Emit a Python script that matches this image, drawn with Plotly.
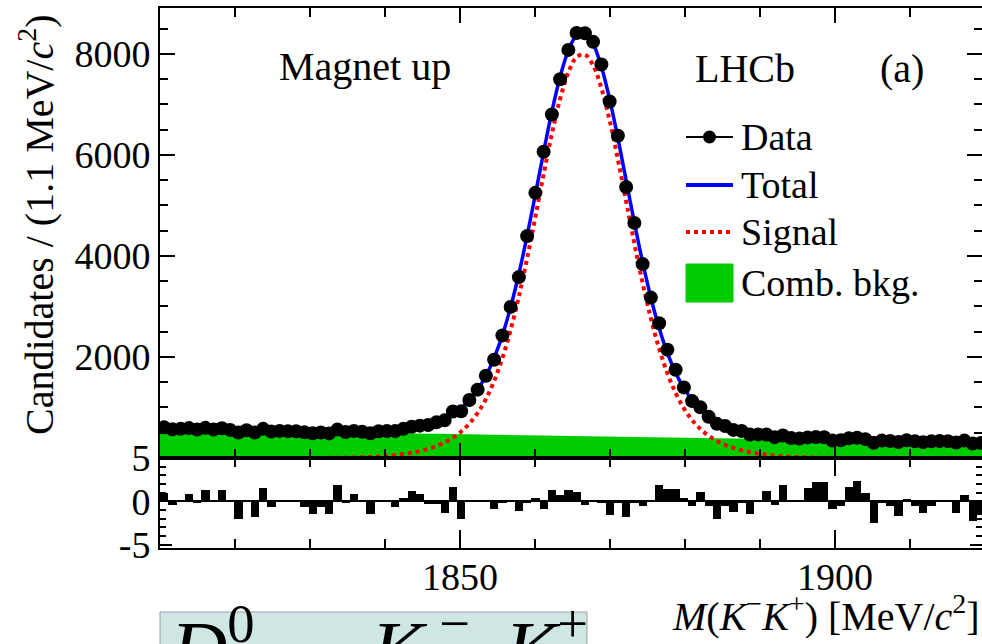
import plotly.graph_objects as go

FONT = "Liberation Serif, Times New Roman, DejaVu Serif, serif"
GREEN = "#00cc00"

# ---- binning -------------------------------------------------------------
bin_low = 1810.0
bin_high = 1920.0
bin_width = 1.1
mass = [round(bin_low + bin_width * (i + 0.5), 2) for i in range(100)]

# ---- data (candidates per 1.1 MeV/c^2 bin) ------------------------------
counts = [607, 570, 577, 592, 563, 597, 563, 590, 556, 503,
          550, 503, 577, 523, 537, 532, 530, 510, 491, 506,
          487, 562, 515, 536, 519, 490, 529, 536, 533, 577,
          619, 641, 652, 706, 745, 921, 927, 1149, 1353, 1630,
          1944, 2427, 2992, 3582, 4394, 5250, 6064, 6800, 7500, 8080,
          8415, 8410, 8240, 7790, 7060, 6380, 5365, 4655, 3839, 3176,
          2668, 2145, 1747, 1398, 1127, 1003, 817, 676, 634, 556,
          534, 465, 467, 466, 413, 445, 397, 385, 408, 415,
          411, 347, 352, 391, 401, 373, 303, 345, 338, 315,
          350, 333, 314, 330, 338, 334, 308, 345, 288, 299]

# ---- pulls -----------------------------------------------------------------
pulls = [1.0, -0.4, 0.05, 0.8, -0.25, 1.3, 0.05, 1.3, 0.0, -2.1,
         0.05, -1.85, 1.5, -0.7, 0.05, -0.05, 0.05, -0.7, -1.45, -0.7,
         -1.45, 1.9, -0.1, 0.8, 0.0, -1.45, 0.05, -0.05, -0.7, 0.4,
         1.2, 0.8, -0.35, -0.3, -1.35, 1.65, -2.0, 0.05, -0.05, 0.05,
         -0.85, -0.1, 0.1, -1.1, -0.1, 0.4, -0.85, 1.35, 0.75, 1.35,
         1.1, -0.4, 0.05, -0.1, -1.55, -0.1, -1.8, -0.1, -0.6, 0.05,
         1.85, 1.4, 1.4, 0.4, -0.6, 1.1, -0.55, -2.0, -0.55, -1.25,
         -0.1, -1.45, 0.05, 1.2, -0.45, 1.9, 0.05, -0.05, 1.5, 2.2,
         2.2, -0.95, -0.5, 1.7, 2.4, 1.0, -2.55, -0.2, -0.5, -1.65,
         0.3, -0.5, -1.4, -0.5, 0.05, -0.05, -1.4, 0.75, -2.3, -1.6]

# ---- fit components at the bin centres ----------------------------------
signal = [0, 0, 0, 0, 0, 0, 0, 0, 0, 0,
          0, 0, 0, 0, 0, 0, 0, 0, 1, 2,
          3, 5, 7, 11, 15, 22, 30, 42, 57, 78,
          104, 138, 181, 236, 308, 400, 521, 681, 891, 1167,
          1524, 1977, 2534, 3198, 3954, 4776, 5616, 6418, 7112, 7637,
          7939, 7987, 7775, 7325, 6686, 5916, 5082, 4248, 3464, 2764,
          2167, 1677, 1287, 983, 750, 574, 440, 339, 260, 200,
          152, 115, 87, 64, 47, 34, 25, 17, 12, 8,
          6, 4, 3, 2, 1, 1, 0, 0, 0, 0,
          0, 0, 0, 0, 0, 0, 0, 0, 0, 0]

comb_bkg = [583, 580, 576, 573, 569, 566, 562, 559, 556, 552,
            549, 546, 542, 539, 536, 533, 529, 526, 523, 520,
            517, 514, 510, 507, 504, 501, 498, 495, 492, 489,
            486, 483, 480, 478, 475, 472, 469, 466, 464, 461,
            458, 455, 453, 450, 447, 445, 442, 439, 437, 434,
            431, 429, 426, 424, 421, 419, 416, 414, 412, 409,
            407, 404, 402, 400, 397, 395, 393, 391, 388, 386,
            384, 382, 379, 377, 375, 373, 371, 369, 367, 365,
            363, 361, 359, 357, 355, 353, 351, 349, 347, 346,
            344, 342, 340, 339, 337, 335, 333, 331, 330, 328]

# curve values at the two range edges
signal_edges = [0, 0]
bkg_edges = [585, 327]

curve_m = [bin_low] + mass + [bin_high]
signal_curve = [signal_edges[0]] + signal + [signal_edges[1]]
bkg_curve = [bkg_edges[0]] + comb_bkg + [bkg_edges[1]]
total_curve = [s + b for s, b in zip(signal_curve, bkg_curve)]

x_ticks = [1850, 1900]
x_minor = list(range(1810, 1921, 10))
y_ticks = [2000, 4000, 6000, 8000]
y_minor = list(range(500, 9000, 500))
pull_ticks = [-5, 0, 5]
pull_labels = ["-5", "0", "5"]
pull_minor = list(range(-5, 6))

legend_names = ["Data", "Total", "Signal", "Comb. bkg."]

# ---- figure --------------------------------------------------------------
W, H = 982, 644
ML, MR, MT, MB = 160, 0, 8, 96
PW, PH = W - ML - MR, H - MT - MB


def px(xp):
    return (xp - ML) / PW


def py(yp):
    return (H - MB - yp) / PH


fig = go.Figure()
fig.add_trace(go.Scatter(x=curve_m, y=bkg_curve, mode="lines",
                         line=dict(width=0, color=GREEN), fill="tozeroy",
                         fillcolor=GREEN, name=legend_names[3],
                         xaxis="x", yaxis="y", hoverinfo="skip"))
fig.add_trace(go.Scatter(x=curve_m, y=signal_curve, mode="lines",
                         line=dict(color="#ff0000", width=4, dash="dot",
                                   shape="spline"),
                         name=legend_names[2], xaxis="x", yaxis="y"))
fig.add_trace(go.Scatter(x=curve_m, y=total_curve, mode="lines",
                         line=dict(color="#0000ff", width=3.5, shape="spline"),
                         name=legend_names[1], xaxis="x", yaxis="y"))
fig.add_trace(go.Scatter(x=mass, y=counts, mode="markers",
                         marker=dict(color="black", size=14),
                         name=legend_names[0], xaxis="x", yaxis="y"))
fig.add_trace(go.Bar(x=mass, y=pulls, width=bin_width,
                     marker=dict(color="black", line=dict(width=0)),
                     name="Pull", xaxis="x2", yaxis="y2"))

axis_common = dict(showline=True, linecolor="black", linewidth=2,
                   mirror="ticks", ticks="inside", tickcolor="black",
                   tickwidth=1.5, showgrid=False, zeroline=False,
                   automargin=False,
                   tickfont=dict(family=FONT, size=38, color="black"))


def ax(**kw):
    d = dict(axis_common)
    d.update(kw)
    return d


minor_style = dict(ticks="inside", tickcolor="black", tickwidth=1.5)

fig.update_layout(
    width=W, height=H,
    margin=dict(l=ML, r=MR, t=MT, b=MB, pad=0, autoexpand=False),
    paper_bgcolor="white", plot_bgcolor="white",
    showlegend=False, bargap=0,
    font=dict(family=FONT, color="black"),
    xaxis=ax(domain=[0, 1], range=[bin_low, 1919.6], anchor="y",
             tickvals=x_ticks, showticklabels=False, ticklen=15,
             minor=dict(tickvals=x_minor, ticklen=9, **minor_style)),
    xaxis2=ax(domain=[0, 1], range=[bin_low, 1919.6], anchor="y2",
              matches="x", tickvals=x_ticks, ticklen=18,
              ticklabelstandoff=-6,
              minor=dict(tickvals=x_minor, ticklen=9, **minor_style)),
    yaxis=ax(domain=[90 / PH, 1], range=[0, 8910], anchor="x",
             tickvals=y_ticks, ticklen=15,
             minor=dict(tickvals=y_minor, ticklen=8, **minor_style)),
    yaxis2=ax(domain=[0, 90 / PH], range=[-5.4, 5.0], anchor="x2",
              tickvals=pull_ticks, ticktext=pull_labels, ticklen=12,
              zeroline=True, zerolinecolor="black", zerolinewidth=1.5,
              minor=dict(tickvals=pull_minor, ticklen=6, **minor_style)),
)

ann = []
txt_font = dict(family=FONT, size=38, color="black")
ann.append(dict(text="Candidates / (1.1 MeV/<i>c</i><sup>2</sup>)",
                xref="paper", yref="paper", x=px(36), y=py(225),
                xanchor="center", yanchor="middle", textangle=-90,
                showarrow=False, font=dict(family=FONT, size=40, color="black")))
ann.append(dict(text="<i>M</i>(<i>K</i><sup>−</sup><i>K</i><sup>+</sup>) [MeV/<i>c</i><sup>2</sup>]",
                xref="paper", yref="paper", x=px(982), y=py(613),
                xanchor="right", yanchor="middle", showarrow=False,
                font=dict(family=FONT, size=40, color="black")))
ann.append(dict(text="Magnet up", xref="paper", yref="paper",
                x=px(365), y=py(66), xanchor="center", yanchor="middle",
                showarrow=False, font=dict(family=FONT, size=40, color="black")))
ann.append(dict(text="LHCb", xref="paper", yref="paper",
                x=px(745), y=py(68), xanchor="center", yanchor="middle",
                showarrow=False, font=dict(family=FONT, size=40, color="black")))
ann.append(dict(text="(a)", xref="paper", yref="paper",
                x=px(902), y=py(68), xanchor="center", yanchor="middle",
                showarrow=False, font=dict(family=FONT, size=40, color="black")))

# legend (drawn by hand to match the ROOT legend keys)
rows = [137, 185, 232, 283]
for name, yrow in zip(legend_names, rows):
    ann.append(dict(text=name, xref="paper", yref="paper", x=px(739),
                    y=py(yrow), xanchor="left", yanchor="middle",
                    showarrow=False, font=txt_font))

shapes = [
    dict(type="line", xref="paper", yref="paper", x0=px(686), x1=px(733),
         y0=py(rows[0]), y1=py(rows[0]), line=dict(color="black", width=2)),
    dict(type="circle", xref="paper", yref="paper", x0=px(703), x1=px(716),
         y0=py(rows[0] - 6.5), y1=py(rows[0] + 6.5),
         fillcolor="black", line=dict(color="black", width=0)),
    dict(type="line", xref="paper", yref="paper", x0=px(686), x1=px(733),
         y0=py(rows[1]), y1=py(rows[1]), line=dict(color="#0000ff", width=4)),
    dict(type="line", xref="paper", yref="paper", x0=px(686), x1=px(733),
         y0=py(rows[2]), y1=py(rows[2]),
         line=dict(color="#ff0000", width=4, dash="dot")),
    dict(type="rect", xref="paper", yref="paper", x0=px(686), x1=px(733),
         y0=py(rows[3] + 19), y1=py(rows[3] - 19),
         fillcolor=GREEN, line=dict(color=GREEN, width=1)),
    # decay label box, cut by the lower edge of the picture
    dict(type="rect", xref="paper", yref="paper", x0=px(160), x1=px(587),
         y0=py(612), y1=py(700), fillcolor="#cfe7e4",
         line=dict(color="#a0a0a0", width=1), layer="below"),
]

ann.append(dict(text="<i>D</i><sup>0</sup> → <i>K</i>&#8201;<sup>−</sup>&#8201; <i>K</i><sup>+</sup>",
                xref="paper", yref="paper", x=px(168), y=py(591),
                xanchor="left", yanchor="top", align="left",
                showarrow=False,
                font=dict(family=FONT, size=78, color="black")))

fig.update_layout(annotations=ann, shapes=shapes)
fig.write_html("out.html", config={"displayModeBar": False},
               post_script="document.body.style.margin='0';")
